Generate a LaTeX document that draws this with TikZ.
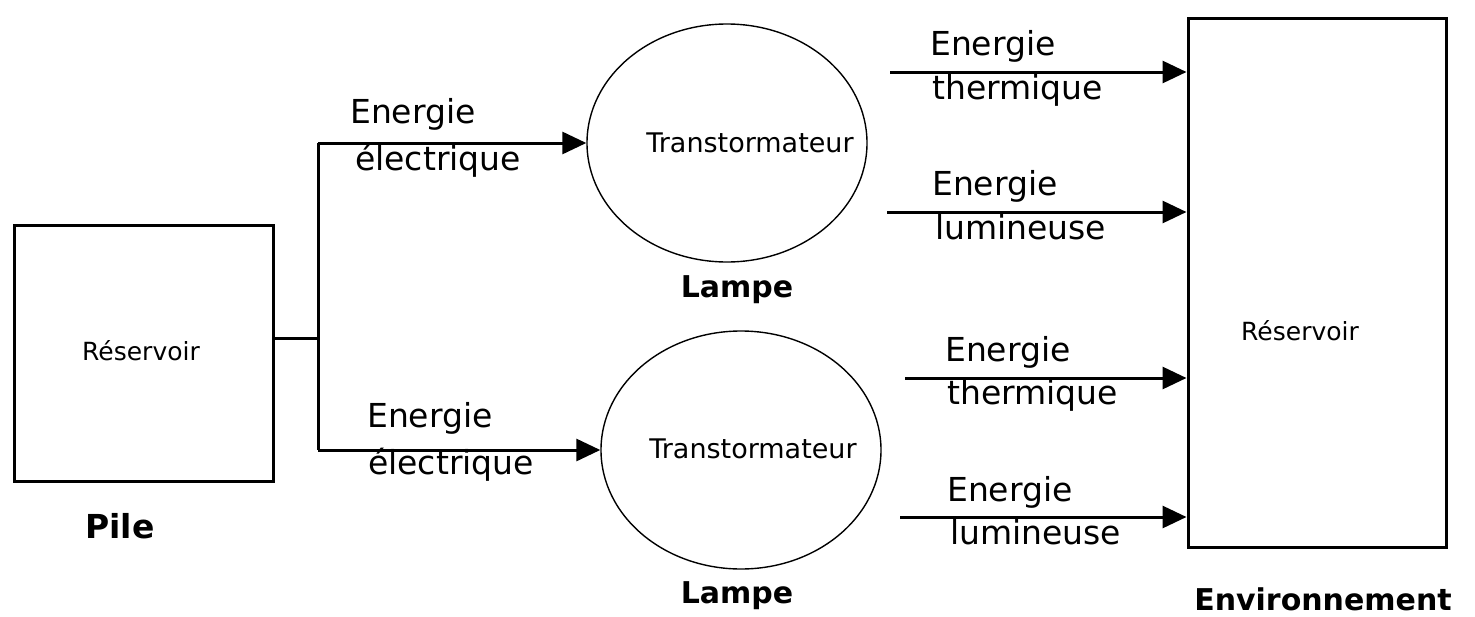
\documentclass[tikz,border=0pt]{standalone}
\usepackage{fontspec}
\setmainfont{DejaVu Sans}
\usetikzlibrary{arrows.meta,shapes.geometric}
\begin{document}
\begin{tikzpicture}[x=1pt,y=-1pt,
  boxst/.style={draw,line width=3pt,inner sep=0pt},
  lampst/.style={draw,ellipse,line width=1.4pt,inner sep=0pt,minimum width=280pt,minimum height=238pt},
  arr/.style={line width=3pt,-{Triangle[length=24pt,width=22pt]}},
  wire/.style={line width=3pt},
  lbl/.style={font=\fontsize{33}{36}\selectfont,anchor=base west,inner sep=0pt},
  small/.style={font=\fontsize{25}{28}\selectfont,inner sep=0pt},
  title/.style={font=\bfseries\fontsize{30}{34}\selectfont,inner sep=0pt}]
\useasboundingbox (0,0) rectangle (1475,616);
% boxes
\node[boxst,minimum width=259pt,minimum height=256pt] (pile) at (143.5,353) {};
\node[small] (pileres) at (141,351) {Réservoir};
\node[title,font=\bfseries\fontsize{33}{36}\selectfont] (piletxt) at (120,526) {Pile};
\node[boxst,minimum width=258pt,minimum height=529pt] (env) at (1317,282.5) {};
\node[small] (envres) at (1300,331) {Réservoir};
\node[title,anchor=base] (envtxt) at (1323,610) {Environnement};
% lamps
\node[lampst] (lamp1) at (727,143) {};
\node[small,font=\fontsize{27}{30}\selectfont] (tr1) at (750,143) {Transtormateur};
\node[title] (lampe1) at (737,290) {Lampe};
\node[lampst] (lamp2) at (741,450) {};
\node[small,font=\fontsize{27}{30}\selectfont] (tr2) at (753,449) {Transtormateur};
\node[title] (lampe2) at (737,596) {Lampe};
% wiring
\coordinate (j0) at (318,338);
\coordinate (j1) at (318,143);
\coordinate (j2) at (318,450);
\draw[wire] (pile.east |- j0) -- (j0);
\draw[wire] (j1) -- (j2);
\draw[arr] (j1) -- (lamp1.west);
\draw[arr] (j2) -- (lamp2.west);
% outputs
\coordinate (o1) at (890,72);
\coordinate (o2) at (887,212);
\coordinate (o3) at (905,378);
\coordinate (o4) at (900,517);
\draw[arr] (o1) -- (o1 -| env.west);
\draw[arr] (o2) -- (o2 -| env.west);
\draw[arr] (o3) -- (o3 -| env.west);
\draw[arr] (o4) -- (o4 -| env.west);
% labels
\node[lbl] (l1a) at (350,123) {Energie};
\node[lbl] (l1b) at (355,170) {électrique};
\node[lbl] (l2a) at (367,427) {Energie};
\node[lbl] (l2b) at (368,474) {électrique};
\node[lbl] (r1a) at (930,55) {Energie};
\node[lbl] (r1b) at (932,99) {thermique};
\node[lbl] (r2a) at (932,195) {Energie};
\node[lbl] (r2b) at (935,239) {lumineuse};
\node[lbl] (r3a) at (945,361) {Energie};
\node[lbl] (r3b) at (947,404) {thermique};
\node[lbl] (r4a) at (947,501) {Energie};
\node[lbl] (r4b) at (950,544) {lumineuse};
\end{tikzpicture}
\end{document}
